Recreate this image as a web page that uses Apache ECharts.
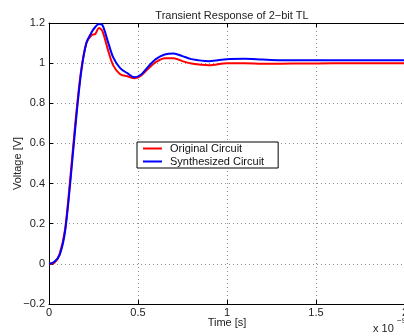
<!DOCTYPE html>
<html><head><meta charset="utf-8">
<script src="https://cdn.jsdelivr.net/npm/echarts@6/dist/echarts.min.js"></script>
<style>html,body{margin:0;padding:0;background:#fff}#c{width:404px;height:336px}</style>
</head><body><div id="c"></div>
<script>
const timeNs = [0, 0.03, 0.06, 0.09, 0.12, 0.15, 0.18, 0.21, 0.24, 0.26, 0.28, 0.30, 0.33, 0.36, 0.40, 0.44, 0.48, 0.52, 0.56, 0.60, 0.65, 0.70, 0.75, 0.80, 0.90, 1.0, 1.1, 1.2, 1.3, 1.4, 1.6, 1.8, 2.0];
const original = [0, 0.005, 0.05, 0.17, 0.43, 0.72, 0.96, 1.10, 1.14, 1.145, 1.175, 1.16, 1.07, 0.99, 0.945, 0.935, 0.925, 0.94, 0.975, 1.005, 1.025, 1.025, 1.01, 0.998, 0.99, 1.0, 1.0, 0.997, 0.997, 0.998, 1.0, 1.0, 1.0];
const synthesized = [0, 0.01, 0.045, 0.16, 0.41, 0.70, 0.95, 1.10, 1.155, 1.18, 1.195, 1.19, 1.11, 1.03, 0.975, 0.95, 0.93, 0.945, 0.985, 1.02, 1.043, 1.048, 1.035, 1.02, 1.01, 1.02, 1.022, 1.018, 1.015, 1.015, 1.015, 1.015, 1.015];
const seriesNames = ['Original Circuit', 'Synthesized Circuit'];
const xTickLabels = {0: '0', 0.5: '0.5', 1: '1', 1.5: '1.5', 2: '2'};
const yTickLabels = {'-0.2': '\u22120.2', '0': '0', '0.2': '0.2', '0.4': '0.4', '0.6': '0.6', '0.8': '0.8', '1': '1', '1.2': '1.2'};

const font = 'Liberation Sans, Arial, Helvetica, sans-serif';
const chart = echarts.init(document.getElementById('c'), null, {renderer: 'canvas'});
const pair = arr => timeNs.map((t, i) => [t, arr[i]]);
const gridLine = {show: true, lineStyle: {color: '#8c8c8c', type: [1, 3], width: 1}};
chart.setOption({
  animation: false,
  backgroundColor: '#fff',
  title: {text: 'Transient Response of 2\u2212bit TL', left: 227, top: 5, textAlign: 'center',
    textStyle: {fontFamily: font, fontSize: 11, fontWeight: 'normal', color: '#222'}},
  grid: {left: 49, right: -1, top: 23, bottom: 32, containLabel: false, outerBoundsMode: 'none'},
  legend: {
    data: seriesNames.map(n => ({name: n, icon: 'rect'})), orient: 'vertical', left: 137, top: 142,
    backgroundColor: '#fff', borderColor: '#000', borderWidth: 1, borderRadius: 0,
    padding: [0, 14, 0, 6], itemGap: 0, itemWidth: 19, itemHeight: 2,
    textStyle: {fontFamily: font, fontSize: 11, lineHeight: 13, color: '#111', padding: [0, 0, 0, 3]}
  },
  xAxis: [{
    type: 'value', min: 0, max: 2, interval: 0.5,
    axisLine: {show: true, onZero: false, lineStyle: {color: '#000', width: 1}},
    axisTick: {show: true, inside: true, length: 4, lineStyle: {color: '#000'}},
    axisLabel: {margin: 3, fontFamily: font, fontSize: 11, color: '#222', formatter: v => xTickLabels[v] ?? String(v)},
    splitLine: gridLine,
    name: 'Time [s]', nameLocation: 'middle', nameGap: 13, nameMoveOverlap: false,
    nameTextStyle: {fontFamily: font, fontSize: 11, color: '#222'}
  }, {
    type: 'value', min: 0, max: 2, interval: 0.5, position: 'top',
    axisLine: {show: true, onZero: false, lineStyle: {color: '#000', width: 1}},
    axisTick: {show: true, inside: true, length: 4, lineStyle: {color: '#000'}},
    axisLabel: {show: false}, splitLine: {show: false}
  }],
  yAxis: [{
    type: 'value', min: -0.2, max: 1.2, interval: 0.2,
    axisLine: {show: true, onZero: false, lineStyle: {color: '#000', width: 1}},
    axisTick: {show: true, inside: true, length: 4, lineStyle: {color: '#000'}},
    axisLabel: {margin: 4, fontFamily: font, fontSize: 11, color: '#222',
      formatter: v => yTickLabels[String(Math.round(v * 10) / 10)] ?? String(v)},
    splitLine: gridLine,
    name: 'Voltage [V]', nameLocation: 'middle', nameGap: 26, nameRotate: 90, nameMoveOverlap: false,
    nameTextStyle: {fontFamily: font, fontSize: 11, color: '#222'}
  }],
  series: [{
    name: seriesNames[0], type: 'line', data: pair(original), smooth: 0.3, showSymbol: false, symbol: 'none',
    lineStyle: {color: '#ff0000', width: 2}, itemStyle: {color: '#ff0000'}, z: 3
  }, {
    name: seriesNames[1], type: 'line', data: pair(synthesized), smooth: 0.3, showSymbol: false, symbol: 'none',
    lineStyle: {color: '#0000ff', width: 2}, itemStyle: {color: '#0000ff'}, z: 4
  }],
  graphic: [
    {type: 'text', left: 373, top: 323, style: {text: 'x 10', font: '11px ' + font, fill: '#222'}},
    {type: 'text', left: 397, top: 317, style: {text: '\u22129', font: '8px ' + font, fill: '#222'}}
  ]
});
</script></body></html>
